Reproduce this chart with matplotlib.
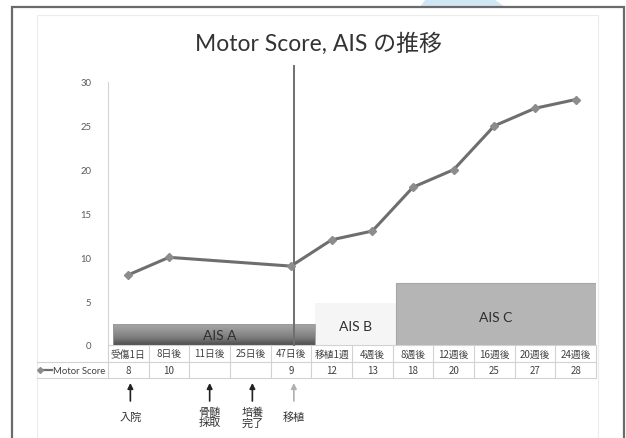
import numpy as np
import matplotlib
matplotlib.use("Agg")
import matplotlib.pyplot as plt
import matplotlib.transforms as mtransforms
from matplotlib.patches import Rectangle, Polygon
from matplotlib.colors import LinearSegmentedColormap

# ---- data ----
categories = ["受傷1日", "8日後", "11日後", "25日後", "47日後", "移植1週", "4週後",
              "8週後", "12週後", "16週後", "20週後", "24週後"]
motor_score = [8, 10, None, None, 9, 12, 13, 18, 20, 25, 27, 28]
series_name = "Motor Score"
ais_labels = ["AIS A", "AIS B", "AIS C"]
ais_start = [-0.38, 4.59, 6.58]
ais_end = [4.59, 6.58, 11.5]
ais_height = [2.35, 4.8, 7.05]
transplant_x = 4.07
event_labels = ["入院", "骨髄\n採取", "培養\n完了", "移植"]
event_x = [0.05, 2.0, 3.05, 4.07]
yticks = [0, 5, 10, 15, 20, 25, 30]
title = "Motor Score, AIS の推移"

W, H = 626, 439
plt.rcParams['font.family'] = ['Noto Sans CJK JP', 'DejaVu Sans']
fig = plt.figure(figsize=(W / 100, H / 100), dpi=100)
fig.patch.set_facecolor("white")

px = mtransforms.Affine2D().scale(1 / W, -1 / H).translate(0, 1) + fig.transFigure

# light blue shape behind the frame
fig.patches.append(Polygon([(420, 8), (426, 0), (494, 0), (505, 8)], closed=True,
                           transform=px, facecolor="#cfe7f3", edgecolor="none", zorder=0))
# outer frame
fig.patches.append(Rectangle((12, 7.5), 612, 440, transform=px, facecolor="white",
                             edgecolor="#6a6a6a", lw=1.6, zorder=1))
# inner chart-area frame
fig.patches.append(Rectangle((37, 16), 561, 440, transform=px, facecolor="white",
                             edgecolor="#ececec", lw=0.8, zorder=1.5))

ax = fig.add_axes([108 / W, (H - 346) / H, (596 - 108) / W, (346 - 83) / H])
ax.set_zorder(3)
ax.patch.set_alpha(0)
ax.set_xlim(-0.5, 11.5)
ax.set_ylim(0, 30)
ax.set_yticks(yticks)
ax.set_yticklabels([str(v) for v in yticks], fontsize=6.8, color="#5a5a5a", family=['Lato', 'DejaVu Sans'])
ax.tick_params(axis='y', length=0, pad=12)
ax.set_xticks([])
for s in ["top", "right", "bottom"]:
    ax.spines[s].set_visible(False)
ax.spines["left"].set_color("#d4d4d4")
ax.spines["left"].set_linewidth(0.8)

# AIS bars
grad = np.linspace(0, 1, 64).reshape(-1, 1)
cmapA = LinearSegmentedColormap.from_list(
    "g", [(0.0, "#4e4e4e"), (0.35, "#7c7c7c"), (0.7, "#959595"), (1.0, "#a6a6a6")])
im = ax.imshow(grad, cmap=cmapA, aspect="auto", origin="lower",
               extent=[ais_start[0], ais_end[0], 0, ais_height[0]], zorder=1)
rA = Rectangle((ais_start[0], 0), ais_end[0] - ais_start[0], ais_height[0],
               facecolor="none", edgecolor="#9a9a9a", lw=0.6, zorder=1.1)
ax.add_patch(rA)
im.set_clip_path(rA)
ax.add_patch(Rectangle((ais_start[1], 0), ais_end[1] - ais_start[1], ais_height[1],
                       facecolor="#f5f5f5", edgecolor="none", zorder=1))
ax.add_patch(Rectangle((ais_start[2], 0), ais_end[2] - ais_start[2], ais_height[2],
                       facecolor="#b5b5b5", edgecolor="#a6a6a6", lw=0.8, zorder=1))
label_y = [1.15, 2.2, 3.2]
for lab, s, e, ly in zip(ais_labels, ais_start, ais_end, label_y):
    ax.text((s + e) / 2 + (0.15 if lab == "AIS A" else 0), ly, lab, ha="center", va="center",
            fontsize=10, color="#2e2e2e", family=['Lato', 'DejaVu Sans'], zorder=2)
ax.set_xlim(-0.5, 11.5)
ax.set_ylim(0, 30)

# transplant vertical line
ax.plot([transplant_x, transplant_x], [0, 31.8], color="#6f6f6f", lw=1.4,
        clip_on=False, zorder=4)

# Motor score line (gaps spanned)
xs = [i for i, v in enumerate(motor_score) if v is not None]
ys = [v for v in motor_score if v is not None]
ax.plot(xs, ys, color="#6e6e6e", lw=2.2, marker="D", markersize=4.2,
        markerfacecolor="#8c8c8c", markeredgecolor="#8c8c8c", zorder=5, clip_on=False)

# title
fig.text(318 / W, 1 - 44 / H, title, ha="center", va="center", fontsize=16.5,
         color="#333333", family=['Lato', 'Noto Sans CJK JP'])

# data table below the axis
bt = mtransforms.blended_transform_factory(ax.transData, px)
line_c = "#d2d2d2"
y0, y1, y2 = 346, 363, 379
ax.plot([-0.5, 11.5], [y0, y0], transform=bt, color=line_c, lw=0.8, clip_on=False)
for yy in (y1, y2):
    fig.lines.append(plt.Line2D([37 / W, 596 / W], [1 - yy / H, 1 - yy / H],
                                transform=fig.transFigure, color=line_c, lw=0.8))
for b in np.arange(-0.5, 12, 1.0):
    ax.plot([b, b], [y0, y2], transform=bt, color=line_c, lw=0.8, clip_on=False)
for i, (c, v) in enumerate(zip(categories, motor_score)):
    ax.text(i, (y0 + y1) / 2, c, transform=bt, ha="center", va="center",
            fontsize=7, color="#404040", clip_on=False)
    if v is not None:
        ax.text(i, (y1 + y2) / 2, str(v), transform=bt, ha="center", va="center",
                fontsize=7, color="#404040", clip_on=False)
# legend key in table
fig.lines.append(plt.Line2D([40 / W, 52 / W], [1 - 371 / H] * 2, transform=fig.transFigure,
                            color="#6e6e6e", lw=1.6, marker="D", markersize=3,
                            markevery=[0], markerfacecolor="#8c8c8c", markeredgecolor="#8c8c8c"))
fig.text(105 / W, 1 - 371 / H, series_name, ha="right", va="center", fontsize=6.8,
         color="#404040", family=['Lato', 'DejaVu Sans'])

# event arrows and labels
for lab, ex in zip(event_labels, event_x):
    col = "#b0b0b0" if lab == "移植" else "#222222"
    ax.annotate("", xy=(ex, 384), xytext=(ex, 402), xycoords=bt, textcoords=bt,
                arrowprops=dict(arrowstyle="-|>", color=col, lw=1.2,
                                mutation_scale=8, shrinkA=0, shrinkB=0),
                annotation_clip=False)
    ax.text(ex, 418, lab, transform=bt, ha="center", va="center", fontsize=8,
            color="#333333", linespacing=1.0, clip_on=False)

fig.savefig("out.png", dpi=100, facecolor="white")
